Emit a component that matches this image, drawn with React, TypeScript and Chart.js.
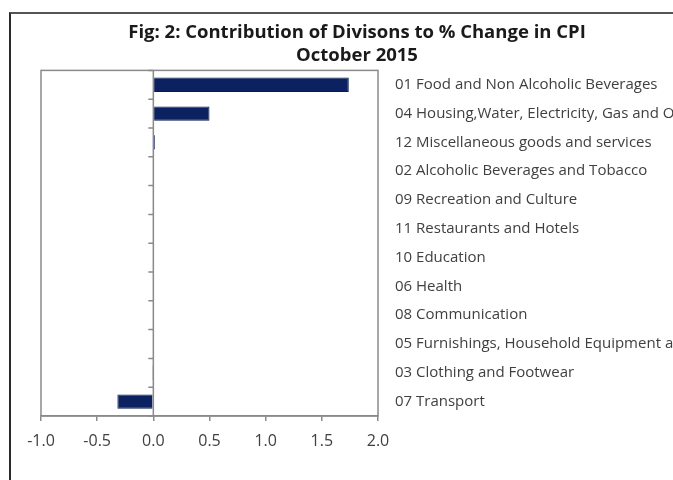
import React, { useEffect, useRef } from "react";
import { Chart, registerables } from "chart.js";

Chart.register(...registerables);

const categories = [
  "01 Food and Non Alcoholic Beverages",
  "04 Housing,Water, Electricity, Gas and Other Fuels",
  "12 Miscellaneous goods and services",
  "02 Alcoholic Beverages and Tobacco",
  "09 Recreation and Culture",
  "11 Restaurants and Hotels",
  "10 Education",
  "06 Health",
  "08 Communication",
  "05 Furnishings, Household Equipment and Routine Maintenance",
  "03 Clothing and Footwear",
  "07 Transport",
];

const contributions = [1.74, 0.5, 0.015, 0, 0, 0, 0, 0, 0, 0, -0.01, -0.32];

const titleLines = ["Fig: 2: Contribution of Divisons to % Change in CPI", "October 2015"];

const xMin = -1;
const xMax = 2;
const xStep = 0.5;

const FONT = "'Open Sans', 'Noto Sans', sans-serif";

const framePlugin = {
  id: "framePlugin",
  afterDatasetsDraw(chart: any) {
    const { ctx, chartArea, scales } = chart;
    const { left, right, top, bottom } = chartArea;
    ctx.save();
    ctx.strokeStyle = "#8a8a8a";
    ctx.lineWidth = 1.5;
    ctx.strokeRect(left, top, right - left, bottom - top);
    const x0 = scales.x.getPixelForValue(0);
    ctx.beginPath();
    ctx.moveTo(x0, top);
    ctx.lineTo(x0, bottom);
    const n = categories.length;
    const h = (bottom - top) / n;
    for (let i = 0; i <= n; i++) {
      const y = top + i * h;
      ctx.moveTo(x0 - 5, y);
      ctx.lineTo(x0, y);
    }
    ctx.stroke();
    ctx.restore();
  },
};

export default function App() {
  const ref = useRef<HTMLCanvasElement | null>(null);

  useEffect(() => {
    if (!ref.current) return;
    const chart = new Chart(ref.current, {
      type: "bar",
      data: {
        labels: categories,
        datasets: [
          {
            data: contributions,
            backgroundColor: "#0c215f",
            borderColor: "#081a4e",
            borderWidth: 1,
            barPercentage: 0.5,
            categoryPercentage: 1,
          },
        ],
      },
      options: {
        indexAxis: "y",
        animation: false,
        responsive: false,
        devicePixelRatio: 1,
        layout: { padding: { left: 41, right: 0, top: 0, bottom: 34 } },
        plugins: {
          legend: { display: false },
          tooltip: { enabled: false },
          title: {
            display: true,
            text: titleLines,
            color: "#1a1a1a",
            font: { family: FONT, size: 18.5, weight: "bold" },
            lineHeight: 1.3,
            padding: { top: 22, bottom: 4 },
          },
        },
        scales: {
          x: {
            type: "linear",
            min: xMin,
            max: xMax,
            ticks: {
              stepSize: xStep,
              color: "#404040",
              font: { family: FONT, size: 16 },
              padding: 11,
              callback: (v: any) => Number(v).toFixed(1),
            },
            grid: {
              display: true,
              drawOnChartArea: false,
              drawTicks: true,
              tickLength: 5,
              color: "#8a8a8a",
              lineWidth: 1.5,
            },
            border: { display: true, color: "#8a8a8a", width: 1.5 },
            afterFit: (scale: any) => {
              scale.height = 30;
            },
          },
          y: {
            type: "category",
            position: "right",
            grid: { display: false, drawTicks: false },
            border: { display: false },
            ticks: {
              color: "#404040",
              font: { family: FONT, size: 15 },
              padding: 17,
              autoSkip: false,
            },
            afterFit: (scale: any) => {
              scale.width = 295;
            },
          },
        },
      },
      plugins: [framePlugin],
    } as any);
    return () => chart.destroy();
  }, []);

  return (
    <div style={{ position: "fixed", left: 0, top: 0, width: 673, height: 480, background: "#fff" }}>
      <div
        style={{
          position: "absolute",
          left: 9,
          top: 12,
          width: 664,
          height: 468,
          borderLeft: "2px solid #2a2a2a",
          borderTop: "2px solid #555",
          boxSizing: "border-box",
        }}
      />
      <canvas
        ref={ref}
        width={673}
        height={480}
        style={{ position: "absolute", left: 0, top: 0, width: 673, height: 480 }}
      />
    </div>
  );
}
